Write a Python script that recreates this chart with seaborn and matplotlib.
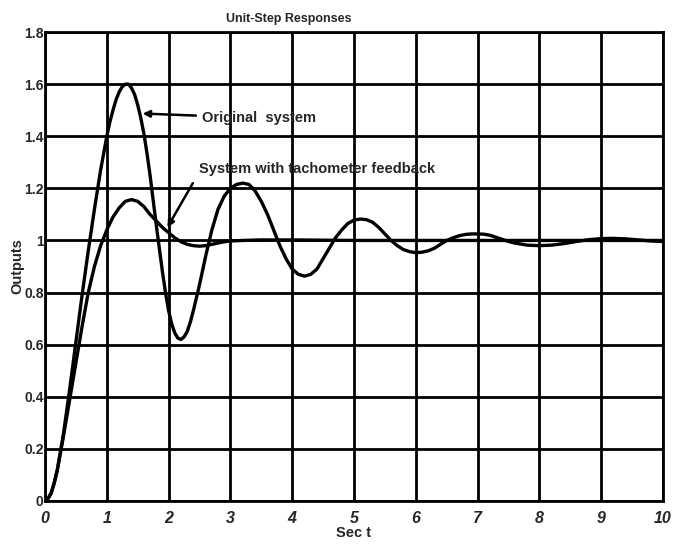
import matplotlib
matplotlib.use("Agg")
import matplotlib.pyplot as plt
import seaborn as sns
import pandas as pd

# ---- data ----
t_orig = [0.0, 0.05, 0.1, 0.15, 0.2, 0.3, 0.4, 0.5, 0.6, 0.7, 0.8, 0.9,
          1.0, 1.05, 1.1, 1.15, 1.2, 1.25, 1.3, 1.35, 1.4, 1.45, 1.5, 1.55,
          1.6, 1.65, 1.7, 1.75, 1.8, 1.85, 1.9, 1.95, 2.0, 2.05, 2.1, 2.15,
          2.2, 2.25, 2.3, 2.35, 2.4, 2.45, 2.5, 2.6, 2.7, 2.8, 2.9,
          3.0, 3.1, 3.2, 3.3, 3.4, 3.5, 3.6, 3.7, 3.8, 3.9,
          4.0, 4.1, 4.2, 4.3, 4.4, 4.5, 4.6, 4.7, 4.8, 4.9,
          5.0, 5.1, 5.2, 5.3, 5.4, 5.5, 5.6, 5.7, 5.8, 5.9,
          6.0, 6.1, 6.2, 6.3, 6.4, 6.5, 6.6, 6.7, 6.8, 6.9,
          7.0, 7.1, 7.2, 7.3, 7.4, 7.5, 7.6, 7.8, 8.0, 8.2,
          8.4, 8.6, 8.8, 9.0, 9.2, 9.4, 9.6, 9.8, 10.0]
y_orig = [0.00, 0.01, 0.03, 0.07, 0.12, 0.26, 0.43, 0.61, 0.79, 0.96, 1.12, 1.27,
          1.40, 1.455, 1.50, 1.54, 1.57, 1.59, 1.60, 1.60, 1.585, 1.56, 1.52, 1.47,
          1.41, 1.335, 1.25, 1.155, 1.06, 0.97, 0.88, 0.80, 0.73, 0.68, 0.645, 0.625,
          0.62, 0.63, 0.65, 0.685, 0.73, 0.78, 0.83, 0.94, 1.04, 1.12, 1.17,
          1.20, 1.215, 1.22, 1.215, 1.19, 1.15, 1.10, 1.04, 0.98, 0.93,
          0.89, 0.87, 0.863, 0.87, 0.89, 0.93, 0.97, 1.01, 1.04, 1.065,
          1.078, 1.082, 1.08, 1.07, 1.05, 1.025, 1.00, 0.98, 0.965, 0.957,
          0.953, 0.955, 0.96, 0.97, 0.985, 1.00, 1.01, 1.018, 1.023, 1.025,
          1.025, 1.024, 1.02, 1.012, 1.004, 0.996, 0.99, 0.982, 0.98, 0.982,
          0.988, 0.996, 1.003, 1.007, 1.008, 1.006, 1.002, 0.998, 0.996]

t_tach = [0.0, 0.05, 0.1, 0.15, 0.2, 0.3, 0.4, 0.5, 0.6, 0.7, 0.8, 0.9,
          1.0, 1.1, 1.2, 1.3, 1.4, 1.5, 1.6, 1.7, 1.8, 1.9,
          2.0, 2.1, 2.2, 2.3, 2.4, 2.5, 2.6, 2.7, 2.8, 2.9,
          3.0, 3.2, 3.5, 4.0, 5.0, 6.0, 7.0, 8.0, 9.0, 10.0]
y_tach = [0.00, 0.01, 0.03, 0.07, 0.12, 0.25, 0.39, 0.53, 0.67, 0.80, 0.90, 0.98,
          1.04, 1.09, 1.125, 1.15, 1.157, 1.15, 1.13, 1.10, 1.075, 1.05,
          1.03, 1.01, 0.995, 0.985, 0.98, 0.978, 0.98, 0.985, 0.99, 0.995,
          0.998, 1.0, 1.002, 1.002, 1.0, 1.0, 1.0, 1.0, 1.0, 1.0]

x_ticks = [0, 1, 2, 3, 4, 5, 6, 7, 8, 9, 10]
y_ticks = [0, 0.2, 0.4, 0.6, 0.8, 1.0, 1.2, 1.4, 1.6, 1.8]
y_tick_labels = ["0", "0.2", "0.4", "0.6", "0.8", "1", "1.2", "1.4", "1.6", "1.8"]

title = "Unit-Step Responses"
xlabel = "Sec t"
ylabel = "Outputs"
label_orig = "Original  system"
label_tach = "System with tachometer feedback"

# ---- plotting ----
sns.set_style("white")
plt.rcParams["font.family"] = ["Liberation Sans", "DejaVu Sans"]
plt.rcParams["font.weight"] = "bold"

fig = plt.figure(figsize=(6.73, 5.45), dpi=100)
L, R, B, T = 45 / 673, 663 / 673, 1 - 501 / 545, 1 - 32 / 545
ax = fig.add_axes([L, B, R - L, T - B])

df_o = pd.DataFrame({"t": t_orig, "y": y_orig})
df_t = pd.DataFrame({"t": t_tach, "y": y_tach})
sns.lineplot(data=df_o, x="t", y="y", ax=ax, color="black", linewidth=2.4,
             sort=False, estimator=None)
sns.lineplot(data=df_t, x="t", y="y", ax=ax, color="black", linewidth=2.4,
             sort=False, estimator=None)

ax.set_xlim(0, 10)
ax.set_ylim(0, 1.8)
ax.set_xticks(x_ticks)
ax.set_xticklabels([str(v) for v in x_ticks], fontsize=11.5, fontweight="bold",
                   fontstyle="italic")
ax.set_yticks(y_ticks)
ax.set_yticklabels(y_tick_labels, fontsize=10, fontweight="bold")
ax.tick_params(axis="x", direction="in", length=0, pad=7)
ax.tick_params(axis="y", direction="in", length=0, pad=1)
ax.grid(True, color="black", linewidth=2.0)
ax.set_axisbelow(True)
for s in ax.spines.values():
    s.set_color("black")
    s.set_linewidth(2.0)

fig.text(289 / 673, 1 - 19 / 545, title, fontsize=9, fontweight="bold",
         ha="center", va="center")
ax.set_xlabel(xlabel, fontsize=10.5, fontweight="bold", labelpad=0)
ax.set_ylabel(ylabel, fontsize=10.5, fontweight="bold", labelpad=0)

ax.annotate(label_orig, xy=(1.58, 1.487), xytext=(2.54, 1.47),
            fontsize=10.5, fontweight="bold", va="center", ha="left",
            arrowprops=dict(arrowstyle="-|>", color="black", lw=1.8,
                            mutation_scale=10, shrinkA=2, shrinkB=0))
ax.annotate(label_tach, xy=(1.98, 1.05), xytext=(2.49, 1.276),
            fontsize=10.5, fontweight="bold", va="center", ha="left",
            arrowprops=dict(arrowstyle="-|>", color="black", lw=1.8,
                            mutation_scale=10, shrinkA=4, shrinkB=0,
                            relpos=(0, 0.2)))

fig.savefig("out.png", dpi=100)
